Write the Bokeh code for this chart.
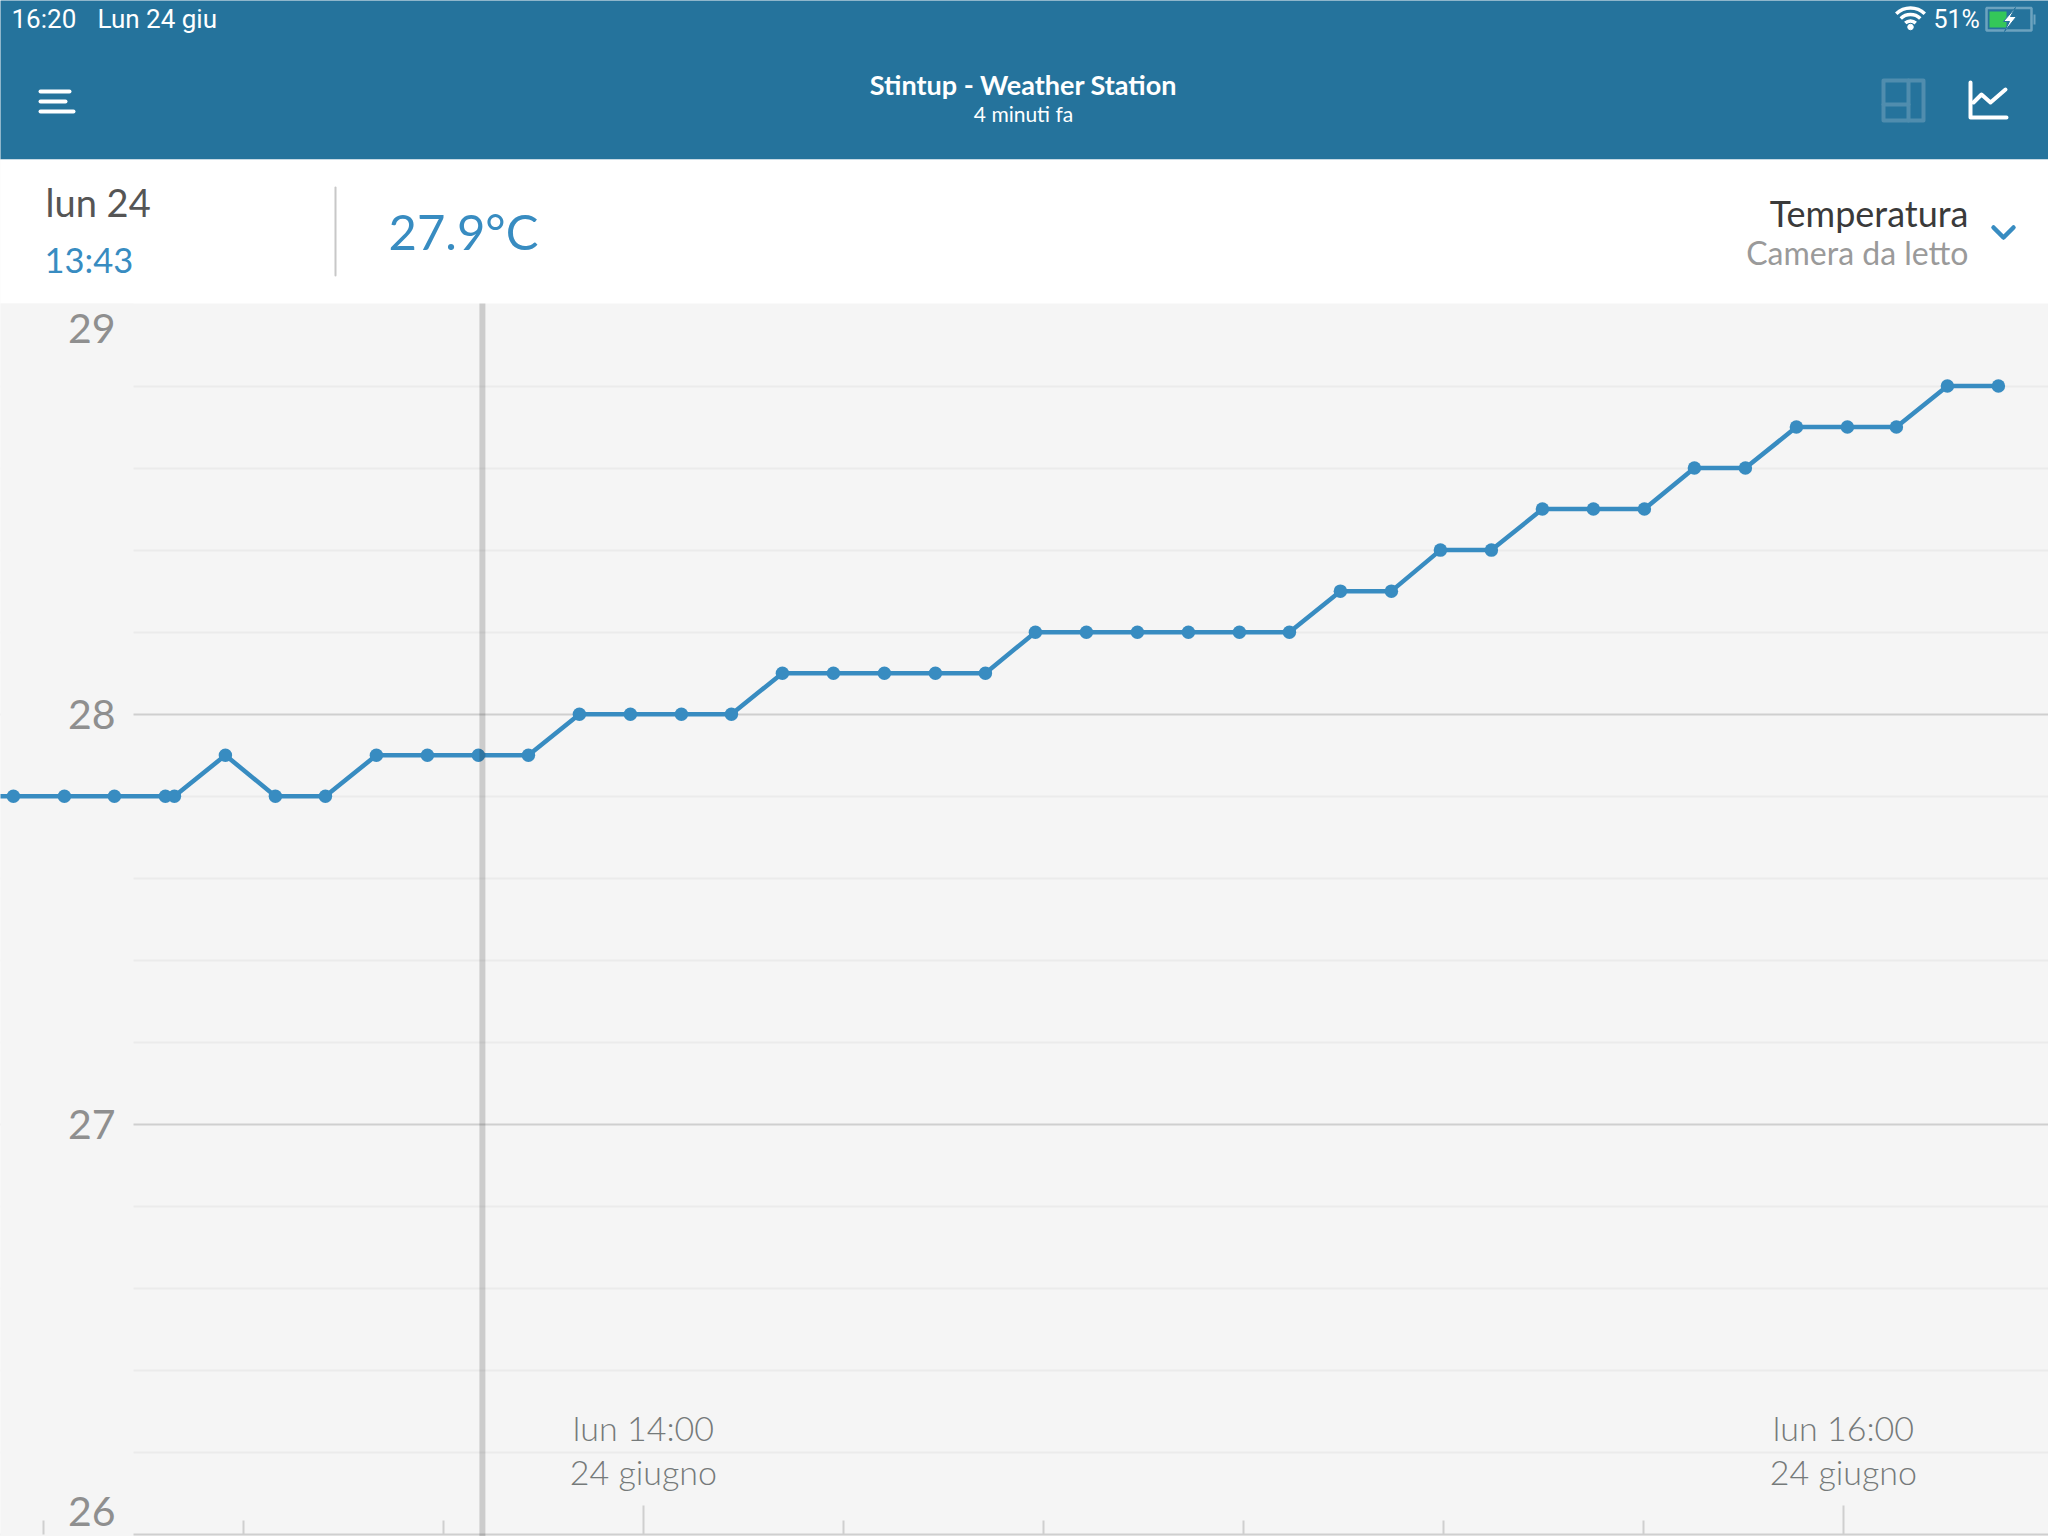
from bokeh.embed import file_html
from bokeh.models import FixedTicker, Grid, Label, LinearAxis, Range1d
from bokeh.plotting import figure
from bokeh.resources import INLINE

# minutes after 12:00 on 24 June
minutes = [51.9, 57.0, 62.1, 67.1, 72.2, 73.1, 78.2, 83.2, 88.2, 93.3, 98.4, 103.5, 108.5,
           113.6, 118.7, 123.8, 128.8, 133.9, 139.0, 144.1, 149.2, 154.2, 159.2, 164.3,
           169.4, 174.5, 179.6, 184.6, 189.7, 194.8, 199.7, 204.8, 209.9, 215.0, 220.1,
           225.1, 230.2, 235.3, 240.4, 245.3, 250.4, 255.5]
temperature = [27.8, 27.8, 27.8, 27.8, 27.8, 27.8, 27.9, 27.8, 27.8, 27.9, 27.9, 27.9, 27.9,
               28.0, 28.0, 28.0, 28.0, 28.1, 28.1, 28.1, 28.1, 28.1, 28.2, 28.2,
               28.2, 28.2, 28.2, 28.2, 28.3, 28.3, 28.4, 28.4, 28.5, 28.5, 28.5,
               28.6, 28.6, 28.7, 28.7, 28.7, 28.8, 28.8]
selected_minute = 103.9

y_ticks = [29, 28, 27, 26]
y_labels = ["29", "28", "27", "26"]
y_label_shift = [-24, 0, 0, 23]
y_grid_major = [26, 27, 28]
y_grid_minor = [26.2, 26.4, 26.6, 26.8, 27.2, 27.4, 27.6, 27.8, 28.2, 28.4, 28.6, 28.8]
x_ticks = [120, 240]
x_minor_ticks = [60, 80, 100, 140, 160, 180, 200, 220]
x_labels = {120: "lun 14:00\n24 giugno", 240: "lun 16:00\n24 giugno"}

BLUE = "#388cc1"
HEADER = "#25739c"
PANEL = "#f5f5f5"
SANS = "Lato"
LIGHT = "Lato Light"


# the app chrome is placed in picture pixels
def px(x):
    return 120 + (x - 643.9) / 10


def py(y):
    return 28 - (y - 714.7) / 410.2


p = figure(width=2048, height=1536, output_backend="svg", toolbar_location=None,
           x_range=Range1d(px(1), px(2049)), y_range=Range1d(py(1537), py(1)),
           x_axis_type=None, y_axis_type=None, min_border=0,
           background_fill_color=PANEL, border_fill_color=PANEL, outline_line_color=None)
p.grid.visible = False

grid = Grid(dimension=1, ticker=FixedTicker(ticks=y_grid_major, minor_ticks=y_grid_minor),
            grid_line_color="#cfcfcf", grid_line_width=2,
            minor_grid_line_color="#ebebeb", minor_grid_line_width=2)
p.add_layout(grid)


def band(x0, x1, y0, y1, color):
    p.quad(left=[px(x0)], right=[px(x1)], top=[py(y0)], bottom=[py(y1)],
           fill_color=color, line_color=None)


def stroke(xs, ys, color="white", width=4.0):
    p.line([px(x) for x in xs], [py(y) for y in ys], line_color=color, line_width=width,
           line_cap="round", line_join="round")


def text(x, y, s, size, color, align="left", font=SANS, style="normal"):
    p.add_layout(Label(x=px(x), y=py(y), text=s, text_font=font, text_font_size=f"{size}px",
                       text_color=color, text_align=align, text_baseline="middle",
                       text_font_style=style))


band(0, 2060, 0, 160, HEADER)
band(0, 2060, 160, 304, "white")
band(0, 134, 304, 1540, PANEL)

# status bar
text(12, 19.5, "16:20", 26, "white", font="Roboto")
text(98, 19.5, "Lun 24 giu", 26, "white", font="Roboto")
text(1934, 19.5, "51%", 25, "white", font="Roboto")
for r, w in zip([7.5, 14, 20.5], [3.5, 3.5, 3.5]):
    p.arc(x=[px(1911)], y=[py(29)], radius=r, radius_units="screen", start_angle=0.8,
          end_angle=2.34, line_color="white", line_width=w)
p.scatter([px(1911)], [py(27.5)], size=5.5, color="white")
p.quad(left=[px(1987)], right=[px(2032)], top=[py(8.5)], bottom=[py(31)], fill_color=None,
       line_color="#6da3bf", line_width=2.5)
band(1990, 2007, 12, 28, "#34c759")
band(2034, 2036, 15, 25, "#6da3bf")
p.patch([px(v) for v in [2016, 2004, 2010, 2005, 2017, 2011]],
        [py(v) for v in [8, 22, 22, 32, 17, 17]], fill_color="white", line_color=HEADER, line_width=1)

# top bar
stroke([41, 70], [92, 92])
stroke([41, 66], [102, 102])
stroke([41, 74], [112, 112])
text(1024, 85, "Stintup - Weather Station", 27, "white", align="center", style="bold")
text(1024, 114, "4 minuti fa", 21, "white", align="center")
box = "#508dae"
stroke([1884, 1924, 1924, 1884, 1884], [81, 81, 121, 121, 81], box)
stroke([1909, 1909], [81, 121], box)
stroke([1884, 1909], [105, 105], box)
stroke([1971, 1971, 2007], [83, 118, 118])
stroke([1974, 1982, 1991, 2006], [103, 95, 103, 90])

# selection band
text(46, 202, "lun 24", 38, "#555555")
text(45, 260, "13:43", 34.5, BLUE)
stroke([336, 336], [188, 276], "#c8c8c8", 2)
text(389, 231, "27.9°C", 49, BLUE)
text(1969, 213, "Temperatura", 36, "#3a3a3a", align="right")
text(1969, 253, "Camera da letto", 32, "#9a9a9a", align="right")
stroke([1994, 2004, 2014], [228, 238, 228], BLUE, 4.5)

# chart
axis = LinearAxis(fixed_location=26, ticker=FixedTicker(ticks=x_ticks, minor_ticks=x_minor_ticks),
                  major_label_overrides=x_labels, axis_line_color=None,
                  major_tick_in=29, major_tick_out=0, minor_tick_in=14, minor_tick_out=0,
                  major_tick_line_color="#cfcfcf", minor_tick_line_color="#cfcfcf",
                  major_tick_line_width=2, minor_tick_line_width=2,
                  major_label_standoff=-128, major_label_text_font=LIGHT,
                  major_label_text_font_size="34px", major_label_text_color="#757a7a",
                  major_label_text_line_height=1.08)
p.add_layout(axis, "below")

p.line(minutes, temperature, line_color=BLUE, line_width=4.5)
p.scatter(minutes, temperature, size=13.5, fill_color=BLUE, line_color=None)
p.line([selected_minute, selected_minute], [py(304), py(1537)], line_color="black",
       line_width=6, line_alpha=0.165)

for tick, label, shift in zip(y_ticks, y_labels, y_label_shift):
    p.add_layout(Label(x=px(116), y=tick, y_offset=shift, text=label, text_font=SANS,
                       text_font_size="41px", text_color="#8f8f8f", text_align="right",
                       text_baseline="middle"))

open("out.html", "w").write(file_html(p, INLINE))
